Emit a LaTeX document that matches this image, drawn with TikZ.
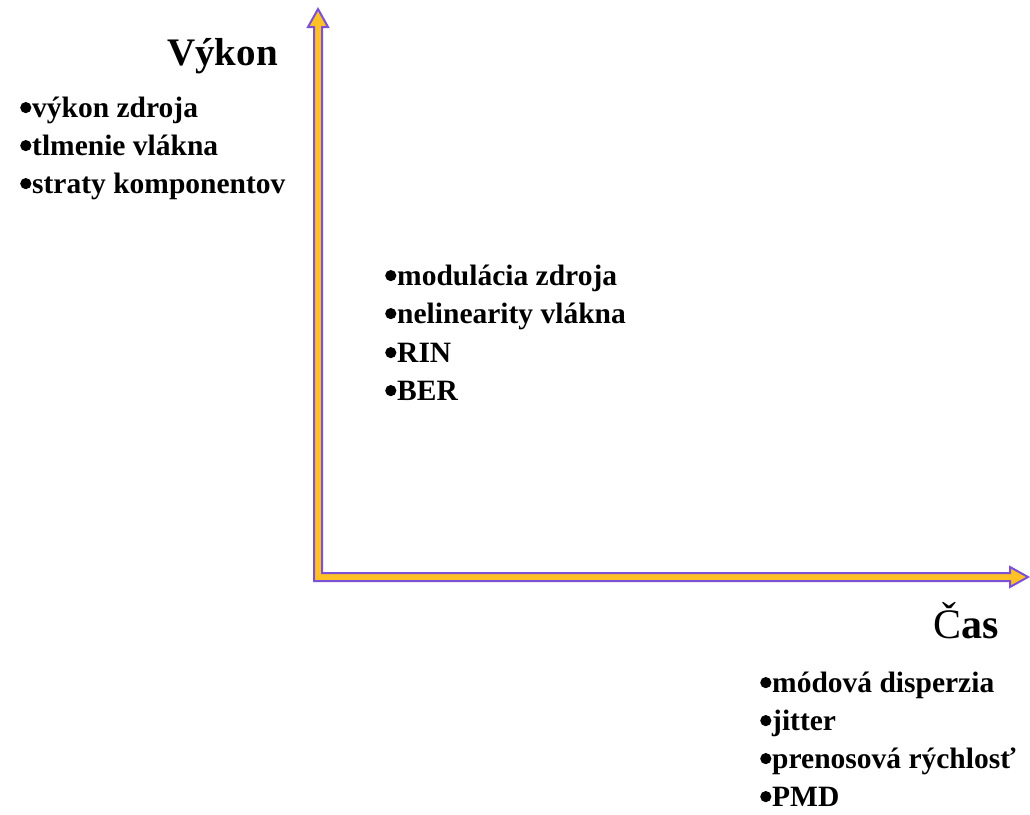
\documentclass[tikz,border=0pt]{standalone}
\usepackage{fontspec}
\setmainfont{Liberation Serif}
\newcommand\blt{\makebox[12pt][l]{\raisebox{3.8pt}{\tikz\fill[black] (0pt,0pt) circle[radius=5.6pt];}}}
\begin{document}
\begin{tikzpicture}[x=1pt,y=-1pt,
  lbl/.style={inner sep=0pt, anchor=base west, font=\bfseries\fontsize{29.5}{38}\selectfont},
  ttl/.style={inner sep=0pt, anchor=base west, font=\bfseries\fontsize{39}{46}\selectfont}]
\definecolor{axisfill}{RGB}{255,193,37}
\definecolor{axisline}{RGB}{123,82,214}
\useasboundingbox (0,0) rectangle (1030,814);
% axes
\draw[fill=axisfill, draw=axisline, line width=2pt, line join=miter]
  (314,581) -- (314,27) -- (308,27) -- (318,9) -- (328,27) -- (322,27)
  -- (322,573) -- (1010,573) -- (1010,567) -- (1028,577) -- (1010,587)
  -- (1010,581) -- cycle;
% texts
\node[ttl] (vykon) at (167,65) {Výkon};
\node[lbl] (a1) at (20,117) {\blt výkon zdroja};
\node[lbl] (a2) at (20,155) {\blt tlmenie vlákna};
\node[lbl] (a3) at (20,193) {\blt straty komponentov};
\node[lbl] (b1) at (385,285) {\blt modulácia zdroja};
\node[lbl] (b2) at (385,323) {\blt nelinearity vlákna};
\node[lbl] (b3) at (385,362) {\blt RIN};
\node[lbl] (b4) at (385,400) {\blt BER};
\node[ttl, font=\bfseries\fontsize{42}{48}\selectfont] (cas) at (933,638) {{\mdseries Č}as};
\node[lbl] (c1) at (760,692) {\blt módová disperzia};
\node[lbl] (c2) at (760,730) {\blt jitter};
\node[lbl] (c3) at (760,768) {\blt prenosová rýchlosť};
\node[lbl] (c4) at (760,806) {\blt PMD};
\end{tikzpicture}
\end{document}
